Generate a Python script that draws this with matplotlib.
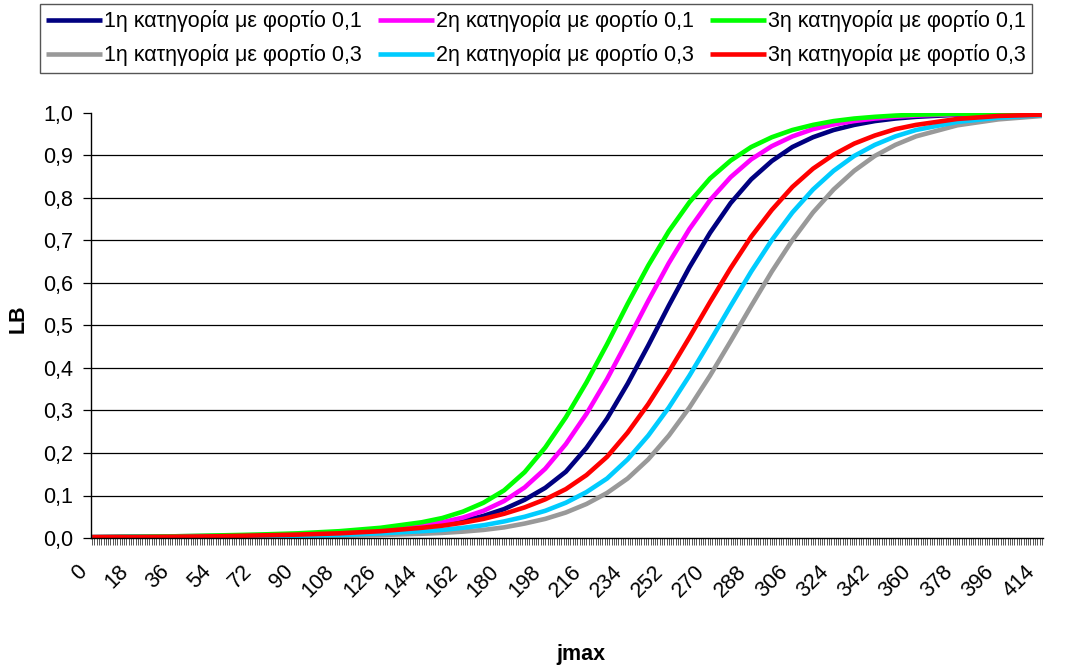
import numpy as np
import matplotlib
matplotlib.use("Agg")
import matplotlib.pyplot as plt
import matplotlib.transforms as mtransforms
from matplotlib.ticker import FixedLocator, MultipleLocator, FuncFormatter

plt.rcParams['font.family'] = ['Liberation Sans', 'DejaVu Sans']

# jmax sample points
jmax = [0, 18, 36, 54, 72, 90, 108, 126, 144, 153, 162, 171, 180, 189, 198, 207,
        216, 225, 234, 243, 252, 261, 270, 279, 288, 297, 306, 315, 324, 333,
        342, 351, 360, 378, 396, 415]

# LB per category and load
cat1_01 = [0.002, 0.003, 0.003, 0.004, 0.006, 0.008, 0.011, 0.017, 0.026, 0.032, 0.040,
           0.052, 0.068, 0.090, 0.118, 0.156, 0.212, 0.281, 0.363, 0.453, 0.547, 0.637,
           0.718, 0.788, 0.844, 0.887, 0.920, 0.943, 0.960, 0.972, 0.981, 0.987, 0.991,
           0.996, 0.998, 0.999]
cat2_01 = [0.002, 0.003, 0.004, 0.005, 0.007, 0.009, 0.013, 0.019, 0.029, 0.037, 0.048,
           0.064, 0.087, 0.119, 0.163, 0.221, 0.292, 0.374, 0.465, 0.558, 0.647, 0.727,
           0.795, 0.849, 0.891, 0.922, 0.945, 0.962, 0.973, 0.981, 0.987, 0.991, 0.994,
           0.997, 0.999, 1.000]
cat3_01 = [0.002, 0.003, 0.004, 0.006, 0.008, 0.011, 0.016, 0.024, 0.037, 0.047, 0.062,
           0.083, 0.112, 0.155, 0.213, 0.284, 0.366, 0.456, 0.551, 0.641, 0.722, 0.790,
           0.846, 0.888, 0.920, 0.943, 0.960, 0.972, 0.981, 0.987, 0.991, 0.994, 0.996,
           0.998, 0.999, 1.000]
cat1_03 = [0.001, 0.001, 0.002, 0.002, 0.003, 0.004, 0.005, 0.007, 0.010, 0.012, 0.015,
           0.019, 0.025, 0.034, 0.045, 0.060, 0.080, 0.106, 0.140, 0.185, 0.241, 0.307,
           0.382, 0.463, 0.546, 0.627, 0.701, 0.766, 0.820, 0.864, 0.899, 0.925, 0.945,
           0.971, 0.985, 0.993]
cat2_03 = [0.001, 0.002, 0.002, 0.003, 0.004, 0.005, 0.007, 0.011, 0.016, 0.019, 0.024,
           0.030, 0.039, 0.050, 0.064, 0.083, 0.108, 0.140, 0.185, 0.241, 0.307, 0.382,
           0.463, 0.546, 0.627, 0.701, 0.766, 0.820, 0.864, 0.899, 0.925, 0.945, 0.960,
           0.979, 0.989, 0.995]
cat3_03 = [0.002, 0.002, 0.003, 0.004, 0.006, 0.008, 0.011, 0.016, 0.024, 0.029, 0.036,
           0.045, 0.057, 0.072, 0.091, 0.115, 0.148, 0.191, 0.248, 0.315, 0.391, 0.472,
           0.555, 0.635, 0.709, 0.772, 0.826, 0.869, 0.902, 0.928, 0.947, 0.962, 0.972,
           0.986, 0.993, 0.996]

series = [
    ("1η κατηγορία με φορτίο 0,1", cat1_01, "#000080"),
    ("2η κατηγορία με φορτίο 0,1", cat2_01, "#FF00FF"),
    ("3η κατηγορία με φορτίο 0,1", cat3_01, "#00FF00"),
    ("1η κατηγορία με φορτίο 0,3", cat1_03, "#999999"),
    ("2η κατηγορία με φορτίο 0,3", cat2_03, "#00CCFF"),
    ("3η κατηγορία με φορτίο 0,3", cat3_03, "#FF0000"),
]

FS = 15.5

fig = plt.figure(figsize=(10.72, 6.70), dpi=100)
ax = fig.add_axes([91 / 1072, 1 - 538 / 670, 952 / 1072, 425 / 670])

lines = {}
for name, vals, col in series:
    ln, = ax.plot(jmax, vals, color=col, lw=3.3, label=name, solid_capstyle='butt')
    lines[name] = ln

ax.set_xlim(-0.5, 415.5)
ax.set_ylim(0, 1.0)

# y axis
ax.yaxis.set_major_locator(MultipleLocator(0.1))
ax.yaxis.set_major_formatter(FuncFormatter(lambda v, p: f"{v:.1f}".replace(".", ",")))
for v in np.arange(0.1, 0.95, 0.1):
    ax.axhline(v, color="black", lw=0.9, zorder=0)
ax.tick_params(axis="y", direction="out", length=6, width=0.9, labelsize=FS, pad=7)

# x axis: a tick per category, label every 18
ax.xaxis.set_major_locator(FixedLocator(np.arange(0, 415, 18)))
ax.xaxis.set_minor_locator(FixedLocator(np.arange(0, 416, 1)))
ax.set_xticklabels([str(v) for v in range(0, 415, 18)], rotation=45,
                   ha="right", va="center", rotation_mode="anchor")
ax.tick_params(axis="x", which="both", direction="out", length=5, width=0.7,
               color="#555555", labelsize=FS, pad=17)
shift = mtransforms.ScaledTranslation(-8 / 100, 0, fig.dpi_scale_trans)
for lbl in ax.get_xticklabels():
    lbl.set_transform(lbl.get_transform() + shift)

for s in ["top", "right"]:
    ax.spines[s].set_visible(False)
ax.spines["left"].set_linewidth(1)
ax.spines["bottom"].set_linewidth(1)

ax.set_ylabel("LB", fontsize=FS, fontweight="bold")
ax.yaxis.set_label_coords(-0.066, 0.515)
ax.set_xlabel("jmax", fontsize=FS, fontweight="bold")
ax.xaxis.set_label_coords(0.515, -0.25)

order = [series[i][0] for i in (0, 3, 1, 4, 2, 5)]
leg = fig.legend([lines[n] for n in order], order, loc="upper center",
                 bbox_to_anchor=(536 / 1072, 1 - 4 / 670), ncol=3, fontsize=FS,
                 frameon=True, fancybox=False, edgecolor="#555555", framealpha=1,
                 handlelength=2.6, handletextpad=0.1, columnspacing=0.75,
                 labelspacing=0.55, borderpad=0.3, borderaxespad=0)
leg.get_frame().set_linewidth(1)

fig.savefig("out.png", dpi=100)
